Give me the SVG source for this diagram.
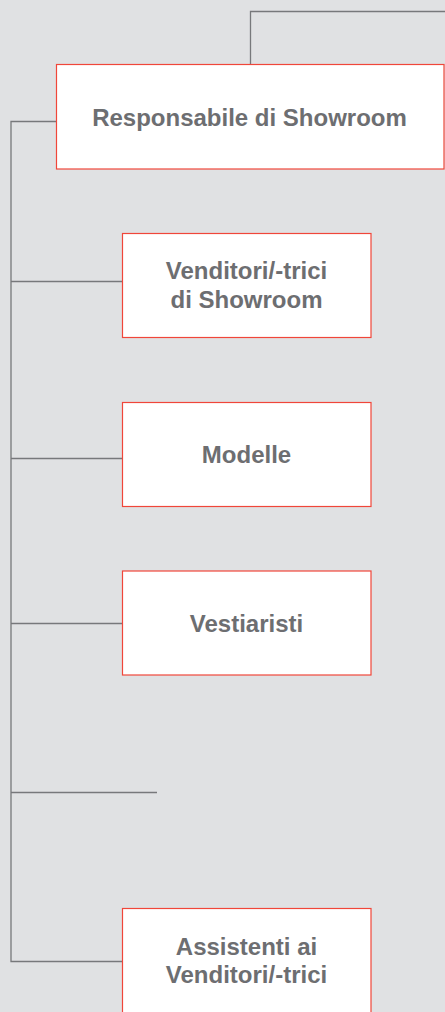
<svg xmlns="http://www.w3.org/2000/svg" width="445" height="1012" viewBox="0 0 445 1012">
<style>
.bg{fill:#e0e1e3}
.box{fill:#ffffff;stroke:#f0463a;stroke-width:1.2}
.ln{fill:none;stroke:#77787b;stroke-width:1.3}
.t{font-family:"Liberation Sans",Arial,sans-serif;font-weight:bold;font-size:24px;fill:#6d6e71;text-anchor:middle}
</style>
<rect class="bg" x="0" y="0" width="445" height="1012"/>
<g id="connectors">
<polyline class="ln" points="250.5,65 250.5,11.5 445,11.5"/>
<polyline class="ln" points="56,121.5 11,121.5 11,961.5 122,961.5"/>
<line class="ln" x1="11" y1="281.5" x2="122" y2="281.5"/>
<line class="ln" x1="11" y1="458.5" x2="122" y2="458.5"/>
<line class="ln" x1="11" y1="623.5" x2="122" y2="623.5"/>
<line class="ln" x1="11" y1="792.5" x2="157" y2="792.5"/>
</g>
<g id="node-responsabile">
<rect class="box" x="56.5" y="64.5" width="387.5" height="104.5"/>
<text class="t" x="249.5" y="125.5">Responsabile di Showroom</text>
</g>
<g id="node-venditori">
<rect class="box" x="122.5" y="233.5" width="248.5" height="104"/>
<text class="t" x="246.5" y="279">Venditori/-trici</text>
<text class="t" x="246.5" y="308">di Showroom</text>
</g>
<g id="node-modelle">
<rect class="box" x="122.5" y="402.5" width="248.5" height="104"/>
<text class="t" x="246.5" y="462.5">Modelle</text>
</g>
<g id="node-vestiaristi">
<rect class="box" x="122.5" y="571" width="248.5" height="104"/>
<text class="t" x="246.5" y="632">Vestiaristi</text>
</g>
<g id="node-assistenti">
<rect class="box" x="122.5" y="908.5" width="248.5" height="130"/>
<text class="t" x="246.5" y="955">Assistenti ai</text>
<text class="t" x="246.5" y="983">Venditori/-trici</text>
</g>
</svg>
